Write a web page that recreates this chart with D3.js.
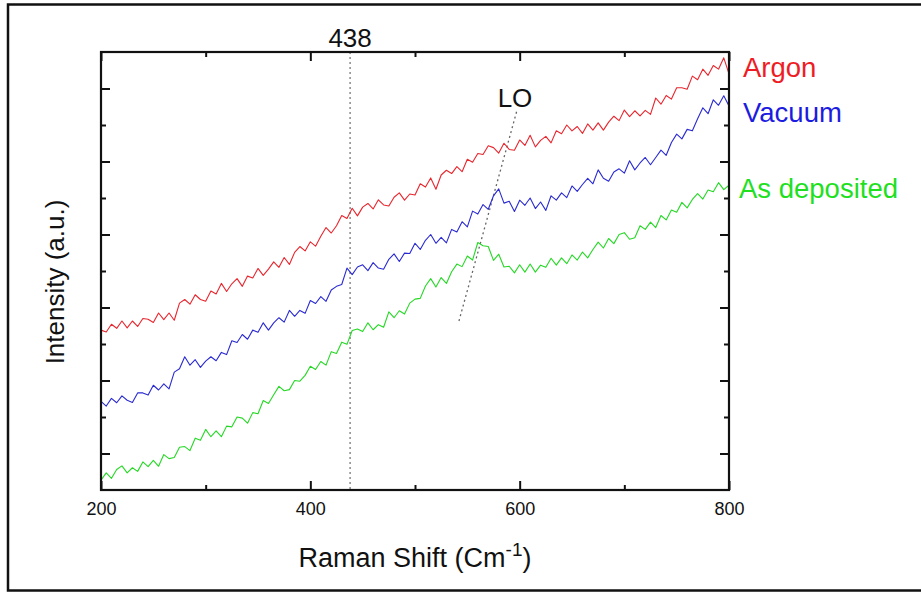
<!DOCTYPE html>
<html>
<head>
<meta charset="utf-8">
<script src="https://cdn.jsdelivr.net/npm/d3@7"></script>
<style>
  html, body { margin: 0; padding: 0; background: #fff; }
  svg { display: block; font-family: Arial, "Liberation Sans", sans-serif; }
</style>
</head>
<body>
<svg id="chart" width="921" height="592"></svg>
<script>
// Raman shift axis (cm^-1), sampled every 5 cm^-1 from 200 to 800
const shiftStart = 200, shiftStep = 5;

// Raman intensities (arbitrary units) for each annealing condition
const argon = [438,433,454,443,463,444,463,448,470,468,459,485,467,485,465,512,522,509,535,522,
  517,545,537,566,544,565,579,558,586,581,607,588,605,625,610,637,618,651,667,655,
  680,668,695,719,704,724,752,744,772,751,775,785,770,795,781,778,802,814,794,811,
  808,839,830,855,824,863,876,867,886,872,906,898,922,919,943,938,923,950,933,931,
  959,944,972,940,958,969,951,984,976,1000,984,996,977,1003,986,1006,986,1008,1024,1012,
  1041,1023,1039,1025,1040,1029,1074,1057,1081,1071,1102,1102,1098,1134,1124,1153,1136,1163,1153,1184,
  1140];

const vacuum = [243,230,251,239,258,246,240,266,266,260,287,274,291,277,323,332,365,342,357,336,
  353,365,354,377,371,409,404,426,413,438,432,458,438,458,472,460,492,476,492,484,
  519,511,530,517,548,558,563,608,590,611,617,601,623,608,605,632,647,626,649,648,
  676,659,684,700,676,692,677,714,707,735,721,764,756,782,769,806,825,786,791,763,
  794,780,800,771,789,766,806,794,814,801,833,818,837,854,839,877,854,846,871,880,
  868,902,877,896,911,891,911,931,917,952,975,962,988,984,1017,1047,1031,1069,1054,1080,
  1052];

const asDeposited = [27,47,32,56,66,47,61,51,77,64,81,65,97,86,89,117,119,108,142,136,
  166,146,162,146,175,173,200,197,183,212,209,245,237,261,284,272,275,300,298,314,
  339,330,352,342,379,374,405,399,437,441,434,458,439,453,446,488,472,491,482,512,
  523,525,559,579,556,582,566,598,619,612,641,630,678,669,667,629,646,611,613,595,
  617,597,619,597,616,610,635,616,636,620,644,630,652,636,659,679,663,689,675,700,
  705,687,691,724,714,734,719,752,740,767,761,788,773,796,812,797,822,817,842,823,
  835];

const seriesNames = ["Argon", "Vacuum", "As deposited"];
const seriesColors = ["#e8262e", "#2a2ad2", "#25d825"];
const labelColors = ["#ee1c24", "#1c1ce0", "#1fe01f"];

// Axis ticks
const xMajorTicks = [200, 400, 600, 800];
const xMinorTicks = [300, 500, 700];
const yMajorTicks = [100, 300, 500, 700, 900, 1100];
const yMinorTicks = [200, 400, 600, 800, 1000];

// Annotations: 438 cm^-1 marker and the LO phonon guide line
const markerShift = 438;
const loGuide = [[542, 463], [597.5, 1041]];

const svg = d3.select("#chart");
const x = d3.scaleLinear().domain([200, 800]).range([101, 729]);
const y = d3.scaleLinear().domain([0, 1200]).range([490, 52]);

// Outer frame (its right edge sits just past the canvas)
svg.append("rect")
  .attr("x", 8).attr("y", 4.5).attr("width", 916).attr("height", 586)
  .attr("fill", "none").attr("stroke", "#111").attr("stroke-width", 2.5);

const toSeries = arr => arr.map((v, i) => ({ s: shiftStart + i * shiftStep, v }));
const allSeries = [argon, vacuum, asDeposited].map(toSeries);

// Dotted marker at 438 cm^-1
svg.append("line")
  .attr("x1", x(markerShift)).attr("x2", x(markerShift))
  .attr("y1", y(1200)).attr("y2", y(0))
  .attr("stroke", "#8a8a8a").attr("stroke-width", 1.5)
  .attr("stroke-dasharray", "2,3");

// LO guide line
svg.append("line")
  .attr("x1", x(loGuide[0][0])).attr("y1", y(loGuide[0][1]))
  .attr("x2", x(loGuide[1][0])).attr("y2", y(loGuide[1][1]))
  .attr("stroke", "#666").attr("stroke-width", 1.3)
  .attr("stroke-dasharray", "2,3");

// Spectra
const line = d3.line().x(d => x(d.s)).y(d => y(d.v));
allSeries.forEach((data, k) => {
  svg.append("path")
    .datum(data)
    .attr("d", line)
    .attr("fill", "none")
    .attr("stroke", seriesColors[k])
    .attr("stroke-width", 1.1)
    .attr("stroke-linejoin", "round");
});

// Axes: majors and minors on all four sides, ticks pointing inward
function drawAxis(axisFn, scale, ticks, size, transform, labels) {
  const g = svg.append("g").attr("transform", transform)
    .call(axisFn(scale).tickValues(ticks).tickSizeInner(size).tickSizeOuter(0)
      .tickPadding(12)
      .tickFormat(labels ? d3.format("d") : () => ""));
  g.select(".domain").remove();
  g.selectAll(".tick line").attr("stroke", "#111").attr("stroke-width", 2);
  g.selectAll(".tick text").attr("font-size", 18).attr("fill", "#111")
    .attr("font-family", "Arial, 'Liberation Sans', sans-serif");
  return g;
}
drawAxis(d3.axisBottom, x, xMajorTicks, -9, "translate(0,490)", true);
drawAxis(d3.axisBottom, x, xMinorTicks, -5, "translate(0,490)", false);
drawAxis(d3.axisTop, x, xMajorTicks, -9, "translate(0,52)", false);
drawAxis(d3.axisTop, x, xMinorTicks, -5, "translate(0,52)", false);
drawAxis(d3.axisLeft, y, yMajorTicks, -9, "translate(101,0)", false);
drawAxis(d3.axisLeft, y, yMinorTicks, -5, "translate(101,0)", false);
drawAxis(d3.axisRight, y, yMajorTicks, -9, "translate(729,0)", false);
drawAxis(d3.axisRight, y, yMinorTicks, -5, "translate(729,0)", false);

// Plot frame
svg.append("rect")
  .attr("x", 101).attr("y", 52).attr("width", 628).attr("height", 438)
  .attr("fill", "none").attr("stroke", "#111").attr("stroke-width", 2.2);

// Axis titles
const xTitle = svg.append("text")
  .attr("x", 415).attr("y", 567)
  .attr("text-anchor", "middle")
  .attr("font-size", 27).attr("fill", "#111");
xTitle.append("tspan").text("Raman Shift (Cm");
xTitle.append("tspan").attr("dy", -11).attr("font-size", 19).text("-1");
xTitle.append("tspan").attr("dy", 11).text(")");

svg.append("text")
  .attr("transform", "translate(64,282) rotate(-90)")
  .attr("text-anchor", "middle")
  .attr("font-size", 26).attr("fill", "#111")
  .text("Intensity (a.u.)");

// Annotation labels
svg.append("text")
  .attr("x", x(markerShift)).attr("y", 47)
  .attr("text-anchor", "middle")
  .attr("font-size", 26).attr("fill", "#111")
  .text(String(markerShift));

svg.append("text")
  .attr("x", 515).attr("y", 107)
  .attr("text-anchor", "middle")
  .attr("font-size", 26).attr("fill", "#111")
  .text("LO");

// Series labels beside the right axis
const labelPos = [[743, 77], [743, 122], [739, 198]];
seriesNames.forEach((name, k) => {
  svg.append("text")
    .attr("x", labelPos[k][0]).attr("y", labelPos[k][1])
    .attr("font-size", 27.5).attr("fill", labelColors[k])
    .text(name);
});
</script>
</body>
</html>
